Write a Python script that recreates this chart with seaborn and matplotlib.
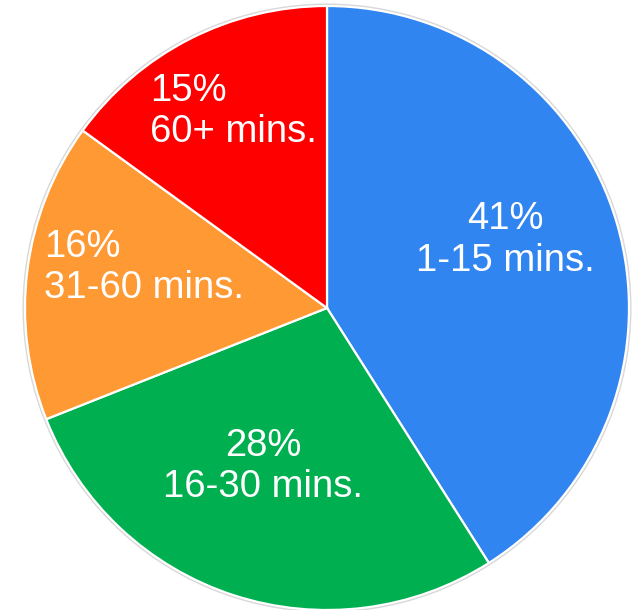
import numpy as np
import matplotlib
matplotlib.use("Agg")
import matplotlib.pyplot as plt
import seaborn as sns

# commute-time shares, clockwise from 12 o'clock
categories = ["1-15 mins.", "16-30 mins.", "31-60 mins.", "60+ mins."]
shares = [41, 28, 16, 15]
colors = ["#3185F1", "#00AF50", "#FF9933", "#FF0000"]

# label placement per slice (radius fraction, angle shift in degrees, alignment)
label_r = [0.631, 0.565, 0.62, 0.72]
label_shift = [4.7, -3.9, -5.4, -1.6]
label_align = ["center", "center", "left", "left"]

sns.set_theme(style="white")
plt.rcParams["font.family"] = ["Liberation Sans", "DejaVu Sans"]

fig = plt.figure(figsize=(6.35, 6.10), dpi=100)
ax = fig.add_axes([0, 0, 1, 1])

wedges, _ = ax.pie(shares, colors=colors, startangle=90, counterclock=False,
                   radius=1.0, wedgeprops=dict(edgecolor="white", linewidth=1.6))

# faint grey outline around the pie
ax.add_patch(plt.Circle((0, 0), 1.006, fill=False, edgecolor="#d8d8d8", linewidth=1.0))

for w, cat, pct, r, shift, al in zip(wedges, categories, shares, label_r, label_shift, label_align):
    ang = np.deg2rad((w.theta1 + w.theta2) / 2 + shift)
    ax.text(r * np.cos(ang), r * np.sin(ang), f"{pct}%\n{cat}", color="white",
            fontsize=27.5, ha="center", va="center", multialignment=al, linespacing=1.18)

ax.set_xlim(-327 / 302, (635 - 327) / 302)
ax.set_ylim(-1.0, 308 / 302)
ax.set_aspect("auto")
ax.axis("off")

fig.savefig("out.png", dpi=100, facecolor="white")
